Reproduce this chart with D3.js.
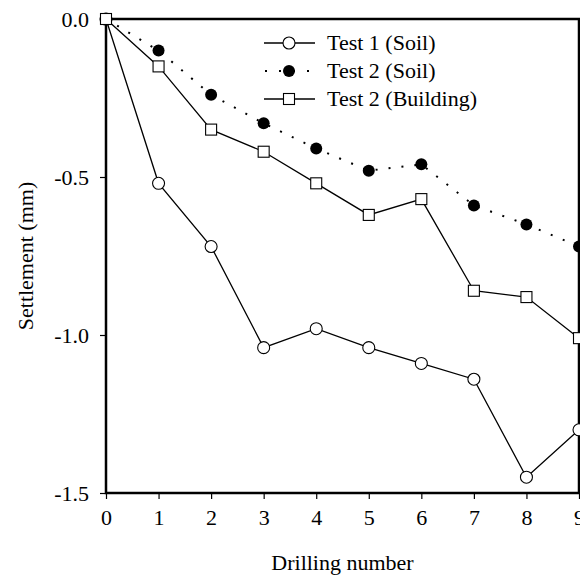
<!DOCTYPE html>
<html lang="en">

<head>
    <meta charset="UTF-8" />
    <title>Settlement vs Drilling number</title>
    <style>
        body { margin: 0; background: #fff; }
        svg { display: block; }
        svg text { font-family: "Liberation Serif", "Times New Roman", serif; font-size: 22px; fill: #000; }
    </style>
</head>

<body>
    <svg id="chart"></svg>

    <script src="https://d3js.org/d3.v7.min.js"></script>
    <script>
        // drilling numbers and settlements (mm)
        const drillings = [0, 1, 2, 3, 4, 5, 6, 7, 8, 9];
        const test1Soil = [0, -0.52, -0.72, -1.04, -0.98, -1.04, -1.09, -1.14, -1.45, -1.30];
        const test2Soil = [0, -0.10, -0.24, -0.33, -0.41, -0.48, -0.46, -0.59, -0.65, -0.72];
        const test2Building = [0, -0.15, -0.35, -0.42, -0.52, -0.62, -0.57, -0.86, -0.88, -1.01];
        const yTicks = [0, -0.5, -1.0, -1.5];
        const seriesNames = ['Test 1 (Soil)', 'Test 2 (Soil)', 'Test 2 (Building)'];

        const width = 580, height = 576;
        const margin = { top: 19, right: 1, bottom: 83, left: 106 };
        const serif = '"Liberation Serif", "Times New Roman", serif';

        const svg = d3.select('#chart')
            .attr('width', width)
            .attr('height', height);

        const x = d3.scaleLinear().domain([0, 9]).range([margin.left, width - margin.right]);
        const y = d3.scaleLinear().domain([-1.5, 0]).range([height - margin.bottom, margin.top]);

        const series = [
            { name: seriesNames[0], values: test1Soil, marker: 'circle', fill: '#fff', dash: null },
            { name: seriesNames[1], values: test2Soil, marker: 'dot', fill: '#000', dash: '2 11' },
            { name: seriesNames[2], values: test2Building, marker: 'square', fill: '#fff', dash: null }
        ];

        // axes (plain hyphen for the minus sign, like the original)
        const xAxis = svg.append('g')
            .attr('transform', `translate(0,${y(-1.5)})`)
            .call(d3.axisBottom(x).tickValues(drillings).tickSize(6).tickPadding(10).tickFormat(d => String(d)));
        const yAxis = svg.append('g')
            .attr('transform', `translate(${x(0)},0)`)
            .call(d3.axisLeft(y).tickValues(yTicks).tickSize(6).tickPadding(11).tickFormat(d => d.toFixed(1)));

        [xAxis, yAxis].forEach(g => {
            g.attr('font-family', serif).attr('font-size', 22);
            g.select('.domain').remove();
            g.selectAll('.tick line').attr('stroke', '#000').attr('stroke-width', 1.2);
            g.selectAll('.tick text').attr('fill', '#000');
        });
        yAxis.selectAll('.tick text').attr('dy', '0.33em');

        // frame
        svg.append('rect')
            .attr('x', x(0))
            .attr('y', y(0))
            .attr('width', x(9) - x(0))
            .attr('height', y(-1.5) - y(0))
            .attr('fill', 'none')
            .attr('stroke', '#000')
            .attr('stroke-width', 2.5);

        const line = d3.line()
            .x((d, i) => x(drillings[i]))
            .y(d => y(d));

        function drawMarker(g, type, fill) {
            if (type === 'square') {
                g.append('rect')
                    .attr('x', -5.5).attr('y', -5.5)
                    .attr('width', 11).attr('height', 11)
                    .attr('fill', fill).attr('stroke', '#000').attr('stroke-width', 1.1);
            } else if (type === 'dot') {
                g.append('circle').attr('r', 6).attr('fill', '#000');
            } else {
                g.append('circle').attr('r', 6)
                    .attr('fill', fill).attr('stroke', '#000').attr('stroke-width', 1.1);
            }
        }

        series.forEach(s => {
            svg.append('path')
                .datum(s.values)
                .attr('d', line)
                .attr('fill', 'none')
                .attr('stroke', '#000')
                .attr('stroke-width', s.dash ? 2 : 1.3)
                .attr('stroke-dasharray', s.dash);

            svg.append('g').selectAll('g')
                .data(s.values)
                .enter().append('g')
                .attr('transform', (d, i) => `translate(${x(drillings[i])},${y(d)})`)
                .each(function () { drawMarker(d3.select(this), s.marker, s.fill); });
        });

        // legend
        const legend = svg.append('g').attr('transform', 'translate(264,43)');
        series.forEach((s, i) => {
            const row = legend.append('g').attr('transform', `translate(0,${i * 28})`);
            row.append('line')
                .attr('x1', 0).attr('x2', 51)
                .attr('stroke', '#000')
                .attr('stroke-width', s.dash ? 2 : 1.3)
                .attr('stroke-dasharray', s.dash ? '2 12' : null)
                .attr('stroke-dashoffset', s.dash ? -1 : null);
            drawMarker(row.append('g').attr('transform', 'translate(25,0)'), s.marker, s.fill);
            row.append('text')
                .attr('x', 63)
                .attr('dy', '0.33em')
                .attr('font-family', serif)
                .text(s.name);
        });

        // axis titles
        svg.append('text')
            .attr('x', (x(0) + x(9)) / 2)
            .attr('y', 570)
            .attr('text-anchor', 'middle')
            .text('Drilling number');

        svg.append('text')
            .attr('transform', `translate(33,${(y(0) + y(-1.5)) / 2}) rotate(-90)`)
            .attr('text-anchor', 'middle')
            .text('Settlement (mm)');
    </script>
</body>

</html>
